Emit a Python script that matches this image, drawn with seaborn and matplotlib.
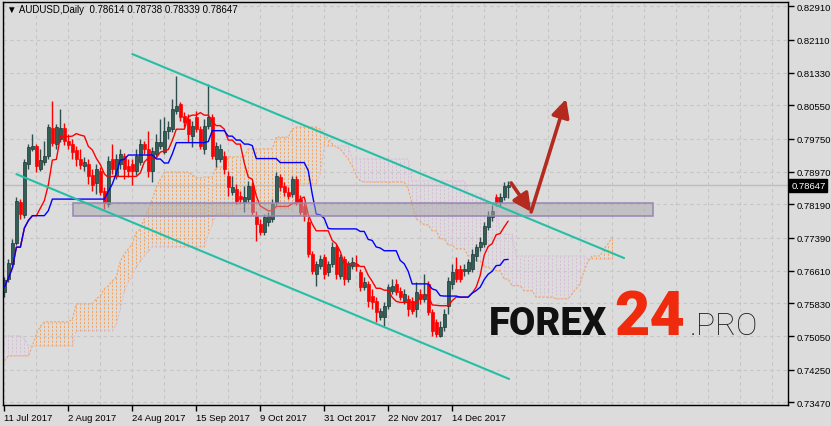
import numpy as np
import pandas as pd
import matplotlib
matplotlib.use('Agg')
import matplotlib.pyplot as plt
import matplotlib.transforms as mtransforms
from matplotlib.patches import Rectangle
import seaborn as sns

# AUDUSD daily candles (bar 0 = 11 Jul 2017)
opens = [
    0.7610, 0.7641, 0.7677, 0.7727, 0.7825, 0.7794, 0.7915, 0.7951, 0.7958, 0.7903,
    0.7920, 0.7934, 0.8001, 0.7963, 0.7975, 0.8001, 0.7970, 0.7963, 0.7948, 0.7927,
    0.7910, 0.7915, 0.7889, 0.7870, 0.7898, 0.7851, 0.7820, 0.7927, 0.7887, 0.7915,
    0.7934, 0.7910, 0.7915, 0.7898, 0.7920, 0.7963, 0.7951, 0.7898, 0.7939, 0.7958,
    0.7944, 0.7994, 0.7998, 0.8041, 0.8058, 0.8029, 0.8022, 0.7982, 0.8027, 0.7998,
    0.7951, 0.8005, 0.8027, 0.7927, 0.7927, 0.7934, 0.7887, 0.7848, 0.7856, 0.7839,
    0.7825, 0.7832, 0.7863, 0.7791, 0.7772, 0.7753, 0.7777, 0.7784, 0.7825, 0.7884,
    0.7863, 0.7848, 0.7844, 0.7879, 0.7832, 0.7815, 0.7777, 0.7701, 0.7653, 0.7672,
    0.7694, 0.7658, 0.7677, 0.7718, 0.7649, 0.7689, 0.7641, 0.7672, 0.7677, 0.7658,
    0.7622, 0.7630, 0.7601, 0.7589, 0.7551, 0.7551, 0.7577, 0.7613, 0.7630, 0.7613,
    0.7589, 0.7594, 0.7589, 0.7570, 0.7606, 0.7594, 0.7630, 0.7563, 0.7539, 0.7506,
    0.7527, 0.7577, 0.7630, 0.7665, 0.7665, 0.7661, 0.7661, 0.7665, 0.7696, 0.7718,
    0.7725, 0.7765, 0.7789, 0.7836, 0.7825, 0.7836, 0.78614]
highs = [
    0.7646, 0.7689, 0.7737, 0.7836, 0.7832, 0.7927, 0.7963, 0.7986, 0.7963, 0.7951,
    0.7970, 0.8010, 0.8065, 0.8010, 0.8046, 0.8013, 0.7986, 0.7975, 0.7958, 0.7951,
    0.7932, 0.7927, 0.7903, 0.7915, 0.7908, 0.7860, 0.7934, 0.7963, 0.7939, 0.7951,
    0.7941, 0.7927, 0.7927, 0.7951, 0.7975, 0.7970, 0.7994, 0.7955, 0.7986, 0.8022,
    0.8027, 0.8017, 0.8070, 0.8124, 0.8063, 0.8039, 0.8034, 0.8017, 0.8041, 0.8005,
    0.8022, 0.8105, 0.8034, 0.7967, 0.7963, 0.7946, 0.7898, 0.7887, 0.7868, 0.7851,
    0.7863, 0.7875, 0.7872, 0.7803, 0.7784, 0.7796, 0.7801, 0.7832, 0.7896, 0.7891,
    0.7872, 0.7860, 0.7887, 0.7887, 0.7841, 0.7825, 0.7789, 0.7708, 0.7684, 0.7699,
    0.7701, 0.7684, 0.7729, 0.7725, 0.7701, 0.7696, 0.7684, 0.7694, 0.7699, 0.7665,
    0.7646, 0.7637, 0.7618, 0.7598, 0.7572, 0.7587, 0.7630, 0.7641, 0.7641, 0.7622,
    0.7618, 0.7603, 0.7598, 0.7634, 0.7618, 0.7653, 0.7637, 0.7570, 0.7546, 0.7541,
    0.7570, 0.7646, 0.7677, 0.7694, 0.7675, 0.7677, 0.7689, 0.7713, 0.7725, 0.7741,
    0.7777, 0.7803, 0.7817, 0.7844, 0.7846, 0.7872, 0.78738]
lows = [
    0.7598, 0.7634, 0.7670, 0.7722, 0.7784, 0.7787, 0.7903, 0.7946, 0.7896, 0.7898,
    0.7913, 0.7927, 0.7958, 0.7951, 0.7967, 0.7960, 0.7951, 0.7927, 0.7910, 0.7903,
    0.7898, 0.7868, 0.7851, 0.7844, 0.7841, 0.7808, 0.7813, 0.7891, 0.7879, 0.7903,
    0.7879, 0.7884, 0.7865, 0.7889, 0.7913, 0.7939, 0.7884, 0.7872, 0.7932, 0.7951,
    0.7939, 0.7975, 0.7991, 0.8034, 0.8017, 0.8003, 0.7967, 0.7955, 0.7991, 0.7951,
    0.7939, 0.7998, 0.7927, 0.7908, 0.7920, 0.7891, 0.7839, 0.7841, 0.7820, 0.7822,
    0.7801, 0.7825, 0.7794, 0.7732, 0.7746, 0.7746, 0.7768, 0.7777, 0.7817, 0.7851,
    0.7839, 0.7832, 0.7836, 0.7817, 0.7794, 0.7779, 0.7694, 0.7653, 0.7625, 0.7665,
    0.7641, 0.7649, 0.7670, 0.7641, 0.7641, 0.7627, 0.7634, 0.7665, 0.7661, 0.7613,
    0.7615, 0.7575, 0.7570, 0.7539, 0.7544, 0.7530, 0.7570, 0.7606, 0.7603, 0.7591,
    0.7582, 0.7553, 0.7558, 0.7551, 0.7582, 0.7587, 0.7556, 0.7506, 0.7504, 0.7502,
    0.7518, 0.7558, 0.7618, 0.7634, 0.7634, 0.7649, 0.7653, 0.7658, 0.7684, 0.7708,
    0.7718, 0.7758, 0.7779, 0.7815, 0.7813, 0.7829, 0.78339]
closes = [
    0.7639, 0.7680, 0.7727, 0.7827, 0.7796, 0.7920, 0.7955, 0.7958, 0.7910, 0.7925,
    0.7934, 0.8003, 0.7965, 0.8003, 0.8001, 0.7970, 0.7960, 0.7944, 0.7927, 0.7913,
    0.7920, 0.7887, 0.7865, 0.7903, 0.7848, 0.7822, 0.7922, 0.7903, 0.7927, 0.7939,
    0.7903, 0.7898, 0.7898, 0.7934, 0.7963, 0.7951, 0.7898, 0.7946, 0.7967, 0.7967,
    0.7994, 0.8003, 0.8046, 0.8053, 0.8027, 0.8015, 0.7986, 0.8005, 0.7998, 0.7958,
    0.8005, 0.8027, 0.7934, 0.7958, 0.7951, 0.7903, 0.7860, 0.7860, 0.7827, 0.7832,
    0.7836, 0.7863, 0.7801, 0.7772, 0.7753, 0.7789, 0.7791, 0.7820, 0.7887, 0.7860,
    0.7848, 0.7839, 0.7879, 0.7825, 0.7801, 0.7791, 0.7701, 0.7661, 0.7677, 0.7689,
    0.7653, 0.7677, 0.7718, 0.7653, 0.7694, 0.7641, 0.7677, 0.7682, 0.7672, 0.7622,
    0.7634, 0.7589, 0.7587, 0.7563, 0.7565, 0.7577, 0.7622, 0.7625, 0.7610, 0.7598,
    0.7606, 0.7570, 0.7565, 0.7610, 0.7594, 0.7606, 0.7563, 0.7518, 0.7511, 0.7527,
    0.7558, 0.7637, 0.7658, 0.7641, 0.7641, 0.7665, 0.7682, 0.7701, 0.7718, 0.7729,
    0.7768, 0.7791, 0.7803, 0.7825, 0.7836, 0.7863, 0.78647]

# Ichimoku cloud (Senkou Span A / B), 26 bars ahead of price
span_a = [
    0.7446, 0.7458, 0.7458, 0.7458, 0.7458, 0.7458, 0.7458, 0.7482, 0.7510, 0.7529,
    0.7539, 0.7539, 0.7539, 0.7539, 0.7539, 0.7539, 0.7539, 0.7546, 0.7582, 0.7582,
    0.7582, 0.7582, 0.7582, 0.7594, 0.7601, 0.7618, 0.7625, 0.7637, 0.7646, 0.7684,
    0.7701, 0.7713, 0.7725, 0.7753, 0.7760, 0.7784, 0.7808, 0.7832, 0.7860, 0.7879,
    0.7894, 0.7896, 0.7896, 0.7896, 0.7896, 0.7896, 0.7896, 0.7889, 0.7882, 0.7882,
    0.7884, 0.7884, 0.7884, 0.7908, 0.7908, 0.7908, 0.7932, 0.7932, 0.7932, 0.7932,
    0.7932, 0.7951, 0.7951, 0.7951, 0.7951, 0.7951, 0.7951, 0.7951, 0.7979, 0.7979,
    0.7979, 0.7979, 0.7998, 0.8003, 0.8003, 0.8003, 0.8003, 0.8003, 0.8003, 0.7998,
    0.7986, 0.7975, 0.7963, 0.7955, 0.7951, 0.7939, 0.7927, 0.7910, 0.7887, 0.7875,
    0.7872, 0.7872, 0.7872, 0.7872, 0.7872, 0.7872, 0.7872, 0.7872, 0.7872, 0.7872,
    0.7872, 0.7856, 0.7820, 0.7784, 0.7779, 0.7770, 0.7770, 0.7756, 0.7756, 0.7737,
    0.7737, 0.7722, 0.7722, 0.7713, 0.7713, 0.7713, 0.7696, 0.7696, 0.7684, 0.7684,
    0.7670, 0.7670, 0.7661, 0.7661, 0.7661, 0.7641, 0.7641, 0.7625, 0.7625, 0.7625,
    0.7613, 0.7613, 0.7613, 0.7598, 0.7598, 0.7598, 0.7598, 0.7598, 0.7594, 0.7594,
    0.7594, 0.7594, 0.7606, 0.7618, 0.7630, 0.7661, 0.7684, 0.7696, 0.7696, 0.7696,
    0.7713, 0.7725, 0.7741]
span_b = [
    0.7506, 0.7506, 0.7506, 0.7506, 0.7506, 0.7499, 0.7482, 0.7482, 0.7482, 0.7482,
    0.7482, 0.7482, 0.7482, 0.7482, 0.7482, 0.7482, 0.7482, 0.7482, 0.7518, 0.7518,
    0.7518, 0.7518, 0.7518, 0.7518, 0.7518, 0.7518, 0.7518, 0.7518, 0.7534, 0.7570,
    0.7613, 0.7634, 0.7649, 0.7670, 0.7684, 0.7696, 0.7708, 0.7718, 0.7718, 0.7718,
    0.7718, 0.7718, 0.7718, 0.7718, 0.7718, 0.7718, 0.7718, 0.7718, 0.7718, 0.7718,
    0.7718, 0.7748, 0.7772, 0.7796, 0.7796, 0.7796, 0.7796, 0.7796, 0.7808, 0.7808,
    0.7808, 0.7808, 0.7808, 0.7808, 0.7808, 0.7808, 0.7808, 0.7808, 0.7808, 0.7808,
    0.7808, 0.7808, 0.7808, 0.7868, 0.7868, 0.7868, 0.7868, 0.7868, 0.7868, 0.7891,
    0.7958, 0.7958, 0.7958, 0.7958, 0.7958, 0.7958, 0.7958, 0.7927, 0.7927, 0.7927,
    0.7927, 0.7927, 0.7927, 0.7927, 0.7927, 0.7927, 0.7927, 0.7927, 0.7927, 0.7927,
    0.7927, 0.7927, 0.7875, 0.7875, 0.7875, 0.7875, 0.7875, 0.7875, 0.7875, 0.7875,
    0.7875, 0.7875, 0.7875, 0.7875, 0.7875, 0.7875, 0.7844, 0.7844, 0.7844, 0.7844,
    0.7820, 0.7820, 0.7820, 0.7820, 0.7748, 0.7748, 0.7748, 0.7748, 0.7696, 0.7696,
    0.7696, 0.7696, 0.7696, 0.7696, 0.7696, 0.7696, 0.7696, 0.7696, 0.7696, 0.7696,
    0.7696, 0.7696, 0.7696, 0.7696, 0.7696, 0.7696, 0.7689, 0.7689, 0.7689, 0.7689,
    0.7689, 0.7689, 0.7689]

date_labels = ['11 Jul 2017', '2 Aug 2017', '24 Aug 2017', '15 Sep 2017',
               '9 Oct 2017', '31 Oct 2017', '22 Nov 2017', '14 Dec 2017']
date_bars = [0, 16, 32, 48, 64, 80, 96, 112]
price_ticks = [0.82910, 0.82110, 0.81330, 0.80550, 0.79750, 0.78970, 0.78190,
               0.77390, 0.76610, 0.75830, 0.75050, 0.74250, 0.73470]
last_price = 0.78647

# hand-drawn objects: (bar, price) end points
channel_upper = [(32.0, 0.8177), (155.0, 0.7691)]
channel_lower = [(3.0, 0.7891), (126.25, 0.7403)]
zone_bars = [17.25, 162.25]
zone_prices = [0.7791, 0.7822]
arrow_down = [(126.75, 0.7870), (131.75, 0.7801)]
arrow_up = [(131.75, 0.7801), (140.5, 0.8070)]

df = pd.DataFrame({'bar': np.arange(len(opens)), 'open': opens, 'high': highs,
                   'low': lows, 'close': closes})
df['tenkan'] = (df['high'].rolling(9, min_periods=1).max() +
                df['low'].rolling(9, min_periods=1).min()) / 2
df['kijun'] = (df['high'].rolling(26, min_periods=1).max() +
               df['low'].rolling(26, min_periods=1).min()) / 2
cloud = pd.DataFrame({'bar': np.arange(len(span_a)), 'a': span_a, 'b': span_b})

bg = '#DCDCDC'
sns.set_theme(style='ticks', rc={'axes.facecolor': bg, 'figure.facecolor': bg,
                                 'axes.edgecolor': 'black', 'axes.linewidth': 1.0})
plt.rcParams['font.family'] = ['Liberation Sans', 'DejaVu Sans']

W, H = 831, 427
fig = plt.figure(figsize=(W / 100, H / 100), dpi=100)
ax = fig.add_axes([3 / W, 21 / H, 785 / W, 403 / H])
ax.set_xlim(-0.35, 196.0)
ax.set_ylim(0.7341, 0.8301)

# grid
for b in range(0, 196, 8):
    ax.axvline(b, color='#C6C6C6', lw=0.8, ls=(0, (3, 3)), zorder=0.5)
for p in price_ticks:
    ax.axhline(p, color='#C6C6C6', lw=0.8, ls=(0, (3, 3)), zorder=0.5)

# cloud hatching
up = cloud['a'] >= cloud['b']
hatch_colors = np.where(up, '#F4A460', '#D8BFD8')
ax.vlines(cloud['bar'], cloud[['a', 'b']].min(axis=1), cloud[['a', 'b']].max(axis=1),
          colors=hatch_colors, lw=0.7, linestyles=(0, (2.2, 1.6)), zorder=1)
ax.plot(cloud['bar'], cloud['a'], color='#F4A460', lw=0.8, ls=(0, (2, 1.5)), zorder=1.1)
ax.plot(cloud['bar'], cloud['b'], color='#D8BFD8', lw=0.8, ls=(0, (2, 1.5)), zorder=1.1)

# bid line
ax.axhline(last_price, color='#BDBDBD', lw=1.0, zorder=1.5)

# candles
bull = df['close'] >= df['open']
body_col = np.where(bull, '#2F5F55', '#FF0000')
wick_col = np.where(bull, '#2F4F4F', '#FF0000')
ax.vlines(df['bar'], df['low'], df['high'], colors=wick_col, lw=1.0, zorder=2)
body_lo = df[['open', 'close']].min(axis=1)
body_h = (df['close'] - df['open']).abs().clip(lower=0.00008)
ax.bar(df['bar'], body_h, bottom=body_lo, width=0.7, color=body_col,
       edgecolor=np.where(bull, '#1F3535', '#FF0000'), linewidth=0.5, zorder=2.2)

# Tenkan-sen / Kijun-sen
sns.lineplot(data=df, x='bar', y='tenkan', color='#FF0000', lw=1.0, ax=ax, zorder=3)
sns.lineplot(data=df, x='bar', y='kijun', color='#0000FF', lw=1.0, ax=ax, zorder=3)

# support zone
ax.add_patch(Rectangle((zone_bars[0], zone_prices[0]), zone_bars[1] - zone_bars[0],
                       zone_prices[1] - zone_prices[0], facecolor='#A8A8AC', alpha=0.5,
                       edgecolor='none', zorder=4))
ax.add_patch(Rectangle((zone_bars[0], zone_prices[0]), zone_bars[1] - zone_bars[0],
                       zone_prices[1] - zone_prices[0], facecolor='none',
                       edgecolor='#9A84B4', lw=1.1, zorder=4.1))

# channel
for line in (channel_upper, channel_lower):
    ax.plot([line[0][0], line[1][0]], [line[0][1], line[1][1]],
            color='#26BFA5', lw=1.5, zorder=5)

# arrows
for arr in (arrow_down, arrow_up):
    ax.annotate('', xy=arr[1], xytext=arr[0],
                arrowprops=dict(arrowstyle='-|>,head_length=0.9,head_width=0.45',
                                color='#B42A1E', lw=2.6, shrinkA=0, shrinkB=0),
                zorder=6)

# axes
ax.set_xlabel('')
ax.set_ylabel('')
ax.yaxis.tick_right()
ax.set_yticks(price_ticks)
ax.set_yticklabels([f'{p:.5f}' for p in price_ticks])
ax.set_xticks(date_bars)
ax.set_xticklabels(date_labels, ha='left')
ax.tick_params(axis='both', direction='out', length=4, width=1, colors='black',
               labelsize=6.8, pad=2)
for s in ax.spines.values():
    s.set_visible(True)
    s.set_linewidth(1.0)

# last price tag
trans = mtransforms.blended_transform_factory(ax.transAxes, ax.transData)
ax.text(1.004, last_price, f'{last_price:.5f}', transform=trans, va='center', ha='left',
        fontsize=6.8, color='white', zorder=10,
        bbox=dict(boxstyle='square,pad=0.2', facecolor='black', edgecolor='black'))

# header
fig.text(7 / W, 1 - 10 / H, '\u25bc AUDUSD,Daily  0.78614 0.78738 0.78339 0.78647',
         fontsize=7.0, va='center', ha='left', color='black',
         family=['Liberation Sans', 'DejaVu Sans'])

# watermark
fig.text(489 / W, 92 / H, 'FOREX', fontsize=27.5, fontweight='black', family='Roboto',
         color='#111111', va='baseline', ha='left', zorder=20)
fig.text(614 / W, 92 / H, '24', fontsize=44, fontweight='black', family='Roboto',
         color='#F02A0C', va='baseline', ha='left', zorder=20)
fig.text(690 / W, 92 / H, '.PRO', fontsize=23, fontweight='light', family='Roboto',
         color='#1A1A1A', va='baseline', ha='left', zorder=20)

fig.savefig('out.png', dpi=100, facecolor=bg)
